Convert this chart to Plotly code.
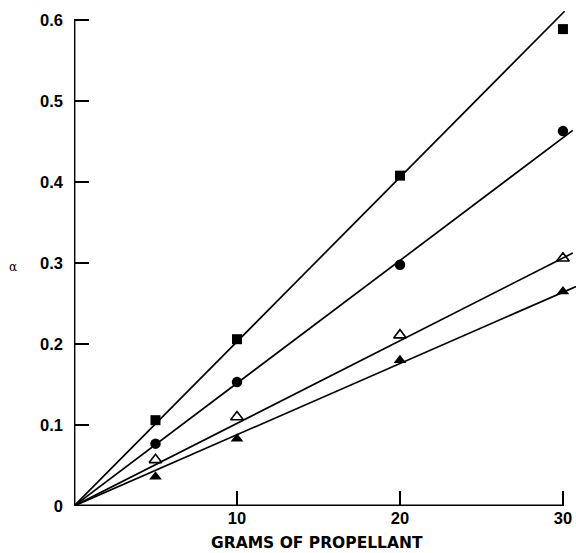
import plotly.graph_objects as go

# Propellant mass (g) and measured alpha for the four series
grams = [5, 10, 20, 30]
alpha_square = [0.106, 0.206, 0.408, 0.589]
alpha_circle = [0.077, 0.153, 0.298, 0.463]
alpha_open_tri = [0.057, 0.110, 0.211, 0.306]
alpha_filled_tri = [0.036, 0.083, 0.180, 0.265]

# Fitted lines through the origin: slope and the x where each line stops
fit_slopes = [0.0203, 0.01516, 0.01021, 0.0088]
fit_ends = [30.1, 30.6, 30.6, 30.8]

x_ticks = [10, 20, 30]
y_ticks = [0, 0.1, 0.2, 0.3, 0.4, 0.5, 0.6]
y_tick_text = ["0", "0.1", "0.2", "0.3", "0.4", "0.5", "0.6"]

series = [
    (alpha_square, dict(symbol="square", size=10, color="black")),
    (alpha_circle, dict(symbol="circle", size=10.5, color="black")),
    (alpha_open_tri, dict(symbol="triangle-up-open", size=11, color="black",
                          line=dict(width=1.6, color="black"))),
    (alpha_filled_tri, dict(symbol="triangle-up", size=11, color="black")),
]

fig = go.Figure()

for slope, end in zip(fit_slopes, fit_ends):
    fig.add_trace(go.Scatter(
        x=[0, end], y=[0, slope * end], mode="lines",
        line=dict(color="black", width=1.7), showlegend=False, hoverinfo="skip",
    ))

for values, marker in series:
    fig.add_trace(go.Scatter(
        x=grams, y=values, mode="markers", marker=marker,
        showlegend=False, cliponaxis=False,
    ))

# Axis spines: y from 0 to 0.6, x from 0 to 30
fig.add_shape(type="line", xref="x", yref="y", x0=0, y0=0, x1=0, y1=y_ticks[-1],
              line=dict(color="black", width=2.8))
fig.add_shape(type="line", xref="x", yref="y", x0=0, y0=0, x1=x_ticks[-1], y1=0,
              line=dict(color="black", width=2.8))

tick_font = dict(family="Liberation Sans, Arial, sans-serif", size=16.5,
                 color="black", weight="bold")

fig.update_xaxes(
    range=[0, 30.8], showgrid=False, zeroline=False, showline=False,
    tickvals=x_ticks, ticks="inside", ticklen=15, tickwidth=2.4, tickcolor="black",
    tickfont=tick_font, ticklabelstandoff=0,
)
fig.update_yaxes(
    range=[0, 0.62], showgrid=False, zeroline=False, showline=False,
    tickvals=y_ticks, ticktext=y_tick_text, ticks="inside", ticklen=15,
    tickwidth=2.4, tickcolor="black", tickfont=tick_font, ticklabelstandoff=10,
)

fig.add_annotation(
    text="GRAMS OF PROPELLANT", xref="x", yref="paper", x=14.9, y=0,
    yshift=-37, yanchor="middle", xanchor="center", showarrow=False,
    font=dict(family="DejaVu Sans, Liberation Sans, sans-serif", size=15.5,
              color="black", weight="bold"),
)
fig.add_annotation(
    text="α", xref="paper", yref="y", x=0, y=0.295, xshift=-61,
    xanchor="center", yanchor="middle", showarrow=False,
    font=dict(family="DejaVu Serif, serif", size=12, color="black"),
)

fig.update_layout(
    width=576, height=553,
    margin=dict(l=74, r=0, t=4, b=47, autoexpand=False),
    plot_bgcolor="white", paper_bgcolor="white",
)

fig.write_html("out.html")
